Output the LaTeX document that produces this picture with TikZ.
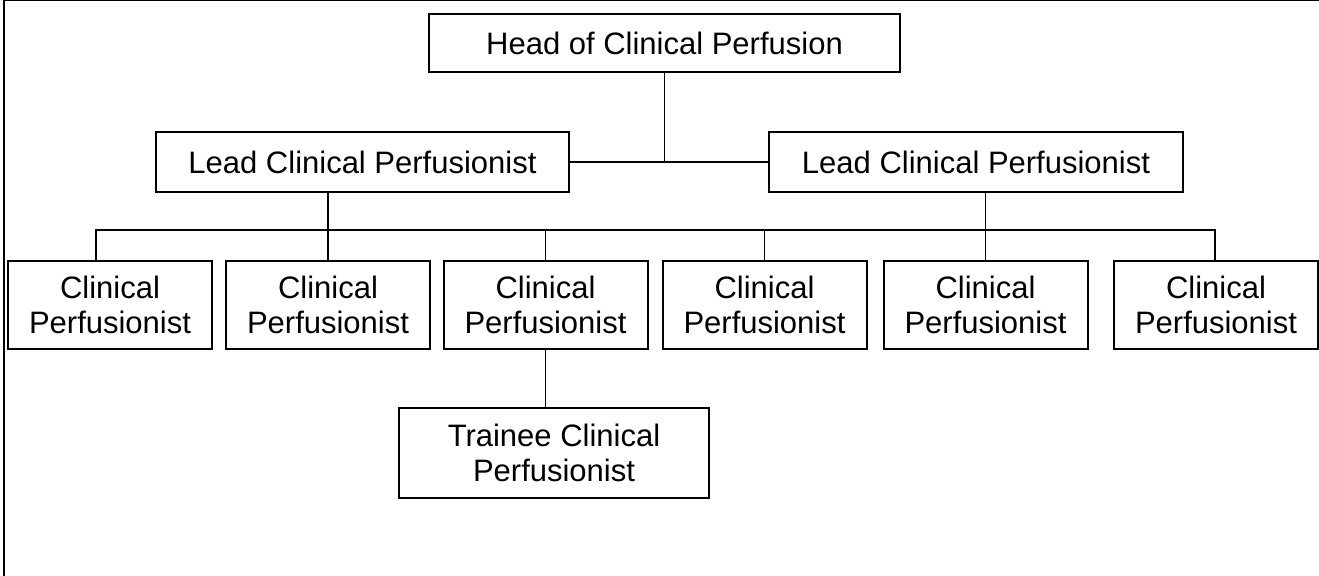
\documentclass[tikz,border=0pt]{standalone}
\usepackage{fontspec}
\setmainfont{Liberation Sans}

\begin{document}
\begin{tikzpicture}[x=0.5pt, y=-0.5pt,
  post/.style={draw, line width=1pt, inner sep=0pt, align=center,
    font=\fontsize{15.5}{17.5}\selectfont},
  staff/.style={post, minimum width=102pt, minimum height=44pt},
  link/.style={line width=0.9pt}]
\useasboundingbox (0,0) rectangle (1319,576);
\draw[line width=1pt] (4,576) -- (4,0.5) -- (1319,0.5);

\node[post, minimum width=235.5pt, minimum height=29pt] (head) at (664.5,43) {Head of Clinical Perfusion};
\node[post, minimum width=206.5pt, minimum height=30pt] (leadL) at (362.5,162) {Lead Clinical Perfusionist};
\node[post, minimum width=207pt, minimum height=30pt] (leadR) at (976,162) {Lead Clinical Perfusionist};

\node[staff] (c1) at (110,305) {Clinical\\Perfusionist};
\node[staff] (c2) at (328,305) {Clinical\\Perfusionist};
\node[staff] (c3) at (545.5,305) {Clinical\\Perfusionist};
\node[staff] (c4) at (764.5,305) {Clinical\\Perfusionist};
\node[staff] (c5) at (985.5,305) {Clinical\\Perfusionist};
\node[staff] (c6) at (1216,305) {Clinical\\Perfusionist};

\node[post, minimum width=155pt, minimum height=45pt] (trainee) at (554,453) {Trainee Clinical\\Perfusionist};

\coordinate (busL) at (96,230);
\coordinate (busR) at (1215,230);

\draw[link] (head.south) -- (head.south |- leadL.east);
\draw[link] (leadL.east) -- (leadR.west);
\draw[link] (c2 |- leadL.south) -- (c2.north);
\draw[link] (c5 |- leadR.south) -- (c5.north);
\draw[link] (busL |- c1.north) -- (busL) -- (busR) -- (busR |- c6.north);
\draw[link] (c3.north) -- (c3 |- busL);
\draw[link] (c4.north) -- (c4 |- busL);
\draw[link] (c3.south) -- (c3.south |- trainee.north);
\end{tikzpicture}
\end{document}
